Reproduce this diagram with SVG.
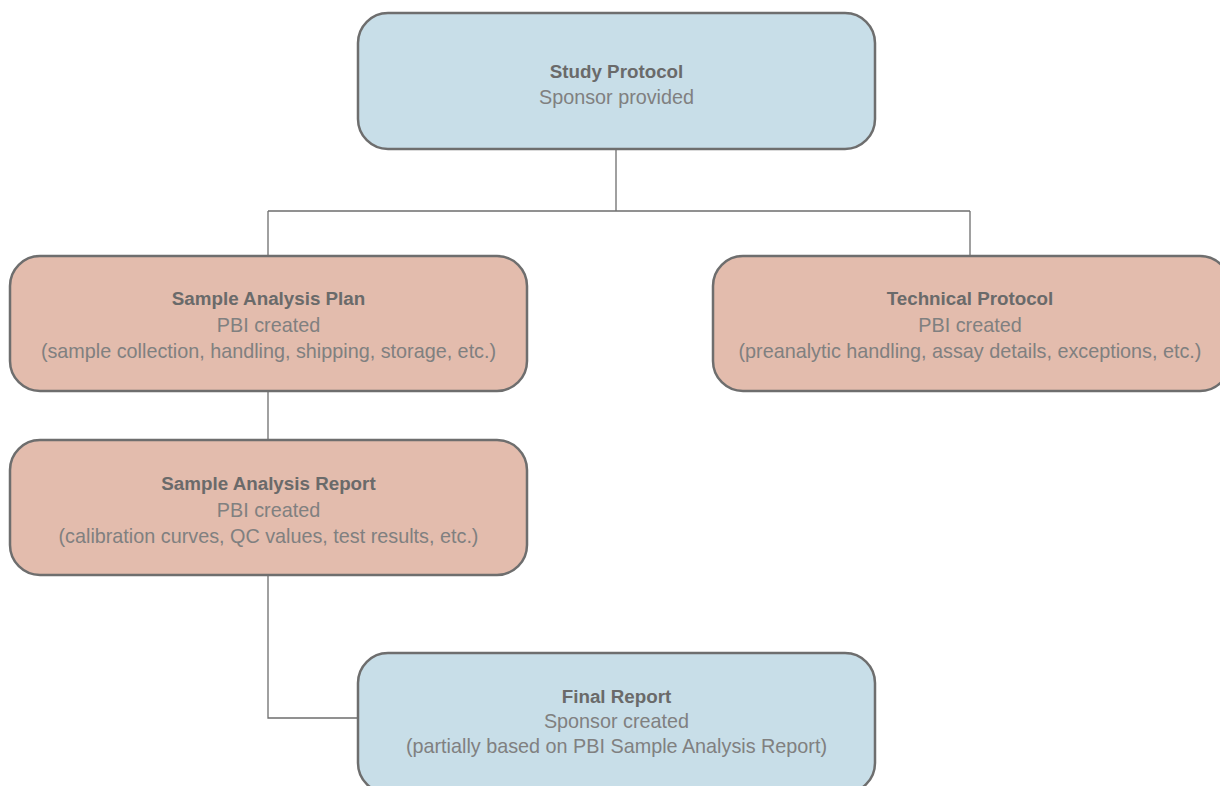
<svg xmlns="http://www.w3.org/2000/svg" width="1220" height="786" viewBox="0 0 1220 786">
<style>
.blue{fill:#c8dee8;stroke:#6e6e6e;stroke-width:2.5}
.pink{fill:#e3bcad;stroke:#6e6e6e;stroke-width:2.5}
.t{font-family:"Liberation Sans",Arial,sans-serif;font-size:19.8px;text-anchor:middle;fill:#808080}
.b{font-weight:bold;font-size:18.8px;fill:#6a6a6a}
.c{fill:none;stroke:#6e6e6e;stroke-width:1.3}
</style>
<rect width="1220" height="786" fill="#ffffff"/>
<g id="connectors">
<path class="c" d="M616 149V211M268 211H970M268 211V256M970 211V256"/>
<path class="c" d="M268 391V440"/>
<path class="c" d="M268 575V718H358"/>
</g>
<g id="study-protocol">
<rect class="blue" x="358" y="13" width="517" height="136" rx="30"/>
<text class="t b" x="616.5" y="78">Study Protocol</text>
<text class="t" x="616.5" y="104">Sponsor provided</text>
</g>
<g id="sample-analysis-plan">
<rect class="pink" x="10" y="256" width="517" height="135" rx="30"/>
<text class="t b" x="268.5" y="305">Sample Analysis Plan</text>
<text class="t" x="268.5" y="332">PBI created</text>
<text class="t" x="268.5" y="358">(sample collection, handling, shipping, storage, etc.)</text>
</g>
<g id="technical-protocol">
<rect class="pink" x="713" y="256" width="517" height="135" rx="30"/>
<text class="t b" x="970" y="305">Technical Protocol</text>
<text class="t" x="970" y="332">PBI created</text>
<text class="t" x="970" y="358">(preanalytic handling, assay details, exceptions, etc.)</text>
</g>
<g id="sample-analysis-report">
<rect class="pink" x="10" y="440" width="517" height="135" rx="30"/>
<text class="t b" x="268.5" y="490">Sample Analysis Report</text>
<text class="t" x="268.5" y="517">PBI created</text>
<text class="t" x="268.5" y="543">(calibration curves, QC values, test results, etc.)</text>
</g>
<g id="final-report">
<rect class="blue" x="358" y="653" width="517" height="140" rx="30"/>
<text class="t b" x="616.5" y="703">Final Report</text>
<text class="t" x="616.5" y="728">Sponsor created</text>
<text class="t" x="616.5" y="753">(partially based on PBI Sample Analysis Report)</text>
</g>
</svg>
